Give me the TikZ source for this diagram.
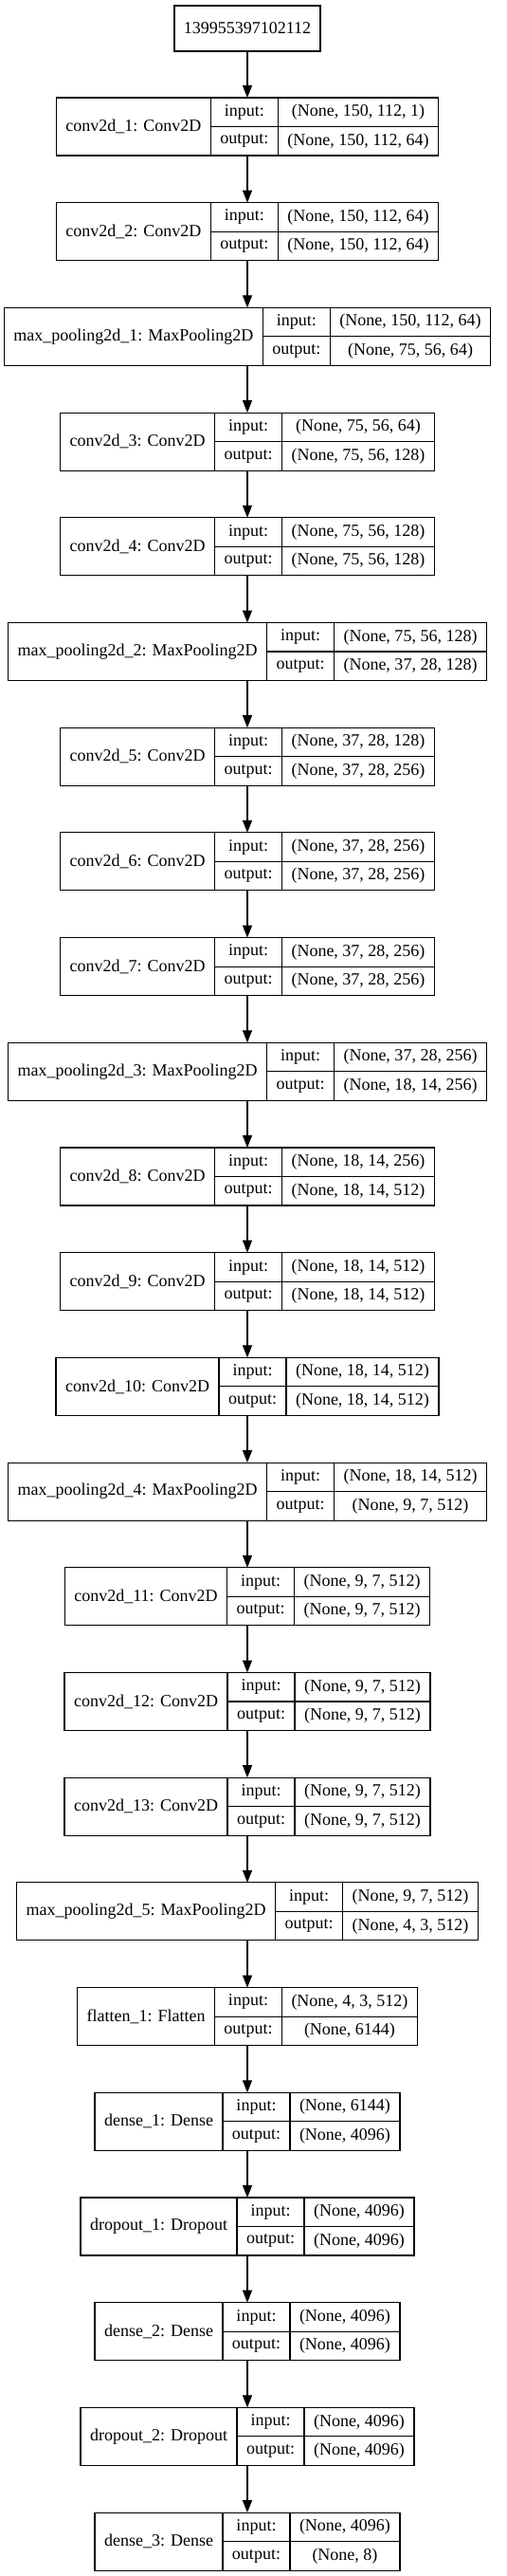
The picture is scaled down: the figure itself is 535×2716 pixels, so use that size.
\documentclass[tikz,border=0pt]{standalone}
\usepackage{fontspec}
\setmainfont{Liberation Serif}
\usetikzlibrary{arrows.meta}
\newcommand\lfont{\fontsize{18pt}{20pt}\selectfont}
\newlength\cwa \newlength\cwb \newlength\cwc \newlength\cwt \newlength\cwtmp
\tikzset{
  recbox/.style={inner sep=0pt, outer sep=0pt, minimum height=61pt},
  namecell/.style={draw, line width=1.1pt, inner sep=0pt, outer sep=0pt, minimum height=61pt, font=\lfont},
  halfcell/.style={draw, line width=1.1pt, inner sep=0pt, outer sep=0pt, minimum height=30.5pt, font=\lfont},
  inbox/.style={draw, line width=1.1pt, inner sep=0pt, outer sep=0pt, minimum height=48pt, minimum width=154pt, font=\lfont},
  arr/.style={line width=1.1pt, -{Triangle[length=13pt,width=10pt]}}
}
% measuring pass (outside the picture)
\newcommand\measurelayer[5]{%
  \settowidth\cwa{\lfont #3}\addtolength\cwa{20pt}%
  \settowidth\cwc{\lfont #4}\settowidth\cwtmp{\lfont #5}%
  \ifdim\cwtmp>\cwc\cwc=\cwtmp\fi\addtolength\cwc{20pt}%
  \expandafter\xdef\csname wa#1\endcsname{\the\cwa}%
  \expandafter\xdef\csname wc#1\endcsname{\the\cwc}%
}
% drawing pass (inside the picture)
\newcommand\drawlayer[5]{%
  \edef\tmpwa{\csname wa#1\endcsname}%
  \edef\tmpwc{\csname wc#1\endcsname}%
  \cwt=\dimexpr\tmpwa+\wbval+\tmpwc\relax
  \node[recbox, minimum width=\cwt] (#1) at (261pt,-#2pt) {};
  \node[namecell, minimum width=\tmpwa, anchor=west] (#1n) at (#1.west) {#3};
  \node[halfcell, minimum width=\wbval, anchor=north west] (#1ik) at (#1n.north east) {input:};
  \node[halfcell, minimum width=\wbval, anchor=north west] (#1ok) at (#1ik.south west) {output:};
  \node[halfcell, minimum width=\tmpwc, anchor=north west] (#1iv) at (#1ik.north east) {#4};
  \node[halfcell, minimum width=\tmpwc, anchor=north west] (#1ov) at (#1ok.north east) {#5};
}
\newcommand\alllayers{%
\layer{L1}{133.5}{conv2d\_1: Conv2D}{(None, 150, 112, 1)}{(None, 150, 112, 64)}%
\layer{L2}{244.2}{conv2d\_2: Conv2D}{(None, 150, 112, 64)}{(None, 150, 112, 64)}%
\layer{L3}{354.9}{max\_pooling2d\_1: MaxPooling2D}{(None, 150, 112, 64)}{(None, 75, 56, 64)}%
\layer{L4}{465.6}{conv2d\_3: Conv2D}{(None, 75, 56, 64)}{(None, 75, 56, 128)}%
\layer{L5}{576.3}{conv2d\_4: Conv2D}{(None, 75, 56, 128)}{(None, 75, 56, 128)}%
\layer{L6}{687.0}{max\_pooling2d\_2: MaxPooling2D}{(None, 75, 56, 128)}{(None, 37, 28, 128)}%
\layer{L7}{797.7}{conv2d\_5: Conv2D}{(None, 37, 28, 128)}{(None, 37, 28, 256)}%
\layer{L8}{908.4}{conv2d\_6: Conv2D}{(None, 37, 28, 256)}{(None, 37, 28, 256)}%
\layer{L9}{1019.1}{conv2d\_7: Conv2D}{(None, 37, 28, 256)}{(None, 37, 28, 256)}%
\layer{L10}{1129.8}{max\_pooling2d\_3: MaxPooling2D}{(None, 37, 28, 256)}{(None, 18, 14, 256)}%
\layer{L11}{1240.5}{conv2d\_8: Conv2D}{(None, 18, 14, 256)}{(None, 18, 14, 512)}%
\layer{L12}{1351.2}{conv2d\_9: Conv2D}{(None, 18, 14, 512)}{(None, 18, 14, 512)}%
\layer{L13}{1461.9}{conv2d\_10: Conv2D}{(None, 18, 14, 512)}{(None, 18, 14, 512)}%
\layer{L14}{1572.6}{max\_pooling2d\_4: MaxPooling2D}{(None, 18, 14, 512)}{(None, 9, 7, 512)}%
\layer{L15}{1683.3}{conv2d\_11: Conv2D}{(None, 9, 7, 512)}{(None, 9, 7, 512)}%
\layer{L16}{1794.0}{conv2d\_12: Conv2D}{(None, 9, 7, 512)}{(None, 9, 7, 512)}%
\layer{L17}{1904.7}{conv2d\_13: Conv2D}{(None, 9, 7, 512)}{(None, 9, 7, 512)}%
\layer{L18}{2015.4}{max\_pooling2d\_5: MaxPooling2D}{(None, 9, 7, 512)}{(None, 4, 3, 512)}%
\layer{L19}{2126.1}{flatten\_1: Flatten}{(None, 4, 3, 512)}{(None, 6144)}%
\layer{L20}{2236.8}{dense\_1: Dense}{(None, 6144)}{(None, 4096)}%
\layer{L21}{2347.5}{dropout\_1: Dropout}{(None, 4096)}{(None, 4096)}%
\layer{L22}{2458.2}{dense\_2: Dense}{(None, 4096)}{(None, 4096)}%
\layer{L23}{2568.9}{dropout\_2: Dropout}{(None, 4096)}{(None, 4096)}%
\layer{L24}{2679.6}{dense\_3: Dense}{(None, 4096)}{(None, 8)}%
}
\begin{document}
\settowidth\cwb{\lfont output:}\addtolength\cwb{20pt}%
\xdef\wbval{\the\cwb}%
\let\layer\measurelayer
\alllayers
\begin{tikzpicture}
\useasboundingbox (0,0) rectangle (535pt,-2716pt);
\node[inbox] (L0) at (261pt,-30pt) {139955397102112};
\let\layer\drawlayer
\alllayers
\foreach \a/\b in {L0/L1,L1/L2,L2/L3,L3/L4,L4/L5,L5/L6,L6/L7,L7/L8,L8/L9,L9/L10,L10/L11,L11/L12,L12/L13,L13/L14,L14/L15,L15/L16,L16/L17,L17/L18,L18/L19,L19/L20,L20/L21,L21/L22,L22/L23,L23/L24}
  \draw[arr] (\a) -- (\b);
\end{tikzpicture}
\end{document}
